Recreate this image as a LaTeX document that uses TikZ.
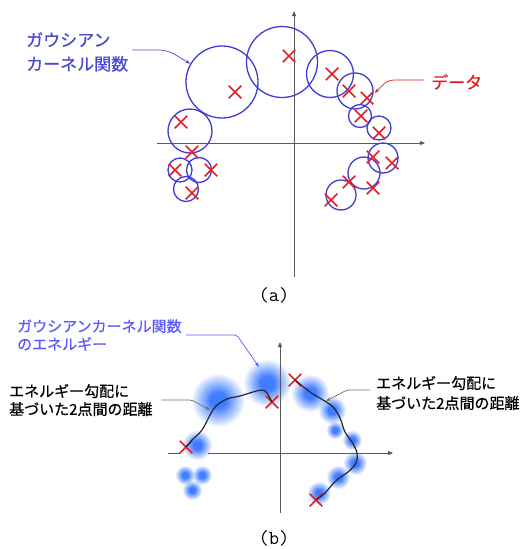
\documentclass[tikz,border=0pt]{standalone}
\usepackage{fontspec}
\newfontfamily\jpfont[FakeBold=0.6]{Noto Sans CJK JP}
\usepackage{tikz}
\usetikzlibrary{positioning, arrows.meta, calc, shapes.misc, fadings}
\definecolor{kblue}{RGB}{62,62,214}
\definecolor{lblue}{RGB}{72,72,210}
\definecolor{eblue}{RGB}{90,90,255}
\definecolor{bblue}{RGB}{64,124,255}
\definecolor{dred}{RGB}{228,30,36}
\definecolor{axgray}{RGB}{90,90,90}
\definecolor{ldgray}{RGB}{110,110,110}
\pgfdeclareradialshading{blobshade}{\pgfpointorigin}{color(0bp)=(white); color(7bp)=(white); color(25bp)=(black); color(50bp)=(black)}
\pgfdeclarefading{blobfade}{\pgfuseshading{blobshade}}

\begin{document}
\begin{tikzpicture}[
    x=1pt, y=-1pt,
    gk/.style={circle, draw=kblue, line width=1.3pt, inner sep=0pt},
    dx/.style={cross out, draw=dred, line width=1.5pt, minimum size=11pt, inner sep=0pt},
    lbla/.style={font=\jpfont\fontsize{17}{24}\selectfont, align=left, inner sep=0pt, anchor=west},
    lblb/.style={font=\jpfont\fontsize{15}{18}\selectfont, align=left, inner sep=0pt, anchor=west},
    capt/.style={font=\ttfamily\fontsize{20}{24}\selectfont, inner sep=0pt},
    axis/.style={draw=axgray, line width=0.8pt},
    axar/.style={axis, -{Triangle[length=5pt, width=4pt]}},
    lead/.style={line width=0.7pt, -{Stealth[length=5pt, width=3.5pt]}},
    dist/.style={draw=black!85, line width=1.2pt},
    blob/.style={fill=bblue, path fading=blobfade}
]
\useasboundingbox (0,0) rectangle (528,549);

% (a)
\coordinate (ax0) at (157,143);
\coordinate (ax1) at (425,143);
\coordinate (ay0) at (294,277);
\coordinate (ay1) at (294,11);
\draw[axar] (ax0) -- (ax1);
\draw[axar] (ay0) -- (ay1);

\node[gk, minimum size=72pt] (g1) at (222,82) {};
\node[gk, minimum size=71pt] (g2) at (282,62) {};
\node[gk, minimum size=47pt] (g3) at (330,74) {};
\node[gk, minimum size=36pt] (g4) at (355,91) {};
\node[gk, minimum size=23pt] (g5) at (360,116) {};
\node[gk, minimum size=24pt] (g6) at (379,128) {};
\node[gk, minimum size=30pt] (g7) at (383,158) {};
\node[gk, minimum size=32pt] (g8) at (364,173) {};
\node[gk, minimum size=30pt] (g9) at (341,195) {};
\node[gk, minimum size=44pt] (g10) at (190,131) {};
\node[gk, minimum size=24pt] (g11) at (180,170) {};
\node[gk, minimum size=25pt] (g12) at (199,170) {};
\node[gk, minimum size=25pt] (g13) at (186,189) {};

\node[dx] (d1) at (289,56) {};
\node[dx] (d2) at (235,92) {};
\node[dx] (d3) at (332,74) {};
\node[dx] (d4) at (349,91) {};
\node[dx] (d5) at (367,98) {};
\node[dx] (d6) at (361,116) {};
\node[dx] (d7) at (379,133) {};
\node[dx] (d8) at (181,122) {};
\node[dx] (d9) at (192,152) {};
\node[dx] (d10) at (175,170) {};
\node[dx] (d11) at (211,170) {};
\node[dx] (d12) at (192,193) {};
\node[dx] (d13) at (373,157) {};
\node[dx] (d14) at (392,163) {};
\node[dx] (d15) at (349,182) {};
\node[dx] (d16) at (373,188) {};
\node[dx] (d17) at (331,200) {};

\node[lbla, text=lblue] (lblA) at (26,52) {ガウシアン\\カーネル関数};
\node[lbla, text=dred] (lblD) at (431,82) {データ};
\draw[lead, draw=lblue, rounded corners=8pt] ([xshift=4pt, yshift=2pt]lblA.east) -- ++(35,0) -- (g1.150);
\draw[lead, draw=dred, rounded corners=6pt] ([xshift=-7pt, yshift=2pt]lblD.west) -- ++(-36,0) -- ([xshift=1pt, yshift=-2pt]g4.east);

\node[capt] (capA) at (274,295) {(a)};

% (b)
\fill[blob] (218,400) circle (27pt);
\fill[blob] (267,383) circle (24pt);
\fill[blob] (197,445) circle (15pt);
\fill[blob] (185,475) circle (10pt);
\fill[blob] (202,475) circle (10pt);
\fill[blob] (192,490) circle (10pt);
\fill[blob] (310,393) circle (19pt);
\fill[blob] (332,410) circle (14pt);
\fill[blob] (335,430) circle (9pt);
\fill[blob] (352,440) circle (10pt);
\fill[blob] (355,463) circle (12pt);
\fill[blob] (338,477) circle (12pt);
\fill[blob] (319,493) circle (12pt);

\coordinate (bx0) at (168,453);
\coordinate (bx1) at (180,453);
\coordinate (bx2) at (208,453);
\coordinate (bx3) at (393,453);
\coordinate (by0) at (280,513);
\coordinate (by1) at (280,342);
\draw[axis] (bx0) -- (bx1);
\draw[axar] (bx2) -- (bx3);
\draw[axar] (by0) -- (by1);

\node[dx] (c1) at (295,380) {};
\node[dx] (c2) at (272,402) {};
\node[dx] (c3) at (186,447) {};
\node[dx] (c4) at (316,500) {};

\draw[dist] plot[smooth, tension=0.6] coordinates {(c3.center) (192,440) (202,430) (210,415) (216,406) (227,399) (240,396) (253,392) (262,390) (267,393) (c2.center)};
\draw[dist] plot[smooth, tension=0.6] coordinates {(c1.center) (310,392) (323,400) (333,407) (340,418) (345,432) (352,442) (357,453) (356,463) (348,472) (338,479) (331,486) (325,493) (c4.center)};

\coordinate (lp) at (210,410);
\coordinate (rp) at (326,401);
\coordinate (ep) at (259,367);

\node[lblb, text=eblue] (lblE) at (17,335) {ガウシアンカーネル関数\\のエネルギー};
\node[lblb] (lblL) at (9,400) {エネルギー勾配に\\基づいた2点間の距離};
\node[lblb, font=\jpfont\fontsize{15}{20}\selectfont] (lblR) at (376,393) {エネルギー勾配に\\基づいた2点間の距離};

\draw[lead, draw=eblue, rounded corners=2pt] ([xshift=4pt]lblE.east) -- ++(51,0) -- (ep);
\draw[lead, draw=ldgray, rounded corners=2pt] ([xshift=9pt]lblL.east) -- ++(30,0) -- (lp);
\draw[lead, draw=ldgray, rounded corners=2pt] ([xshift=-6pt, yshift=3pt]lblR.west) -- ++(-23,0) -- (rp);

\node[capt] (capB) at (274,538) {(b)};
\end{tikzpicture}
\end{document}
